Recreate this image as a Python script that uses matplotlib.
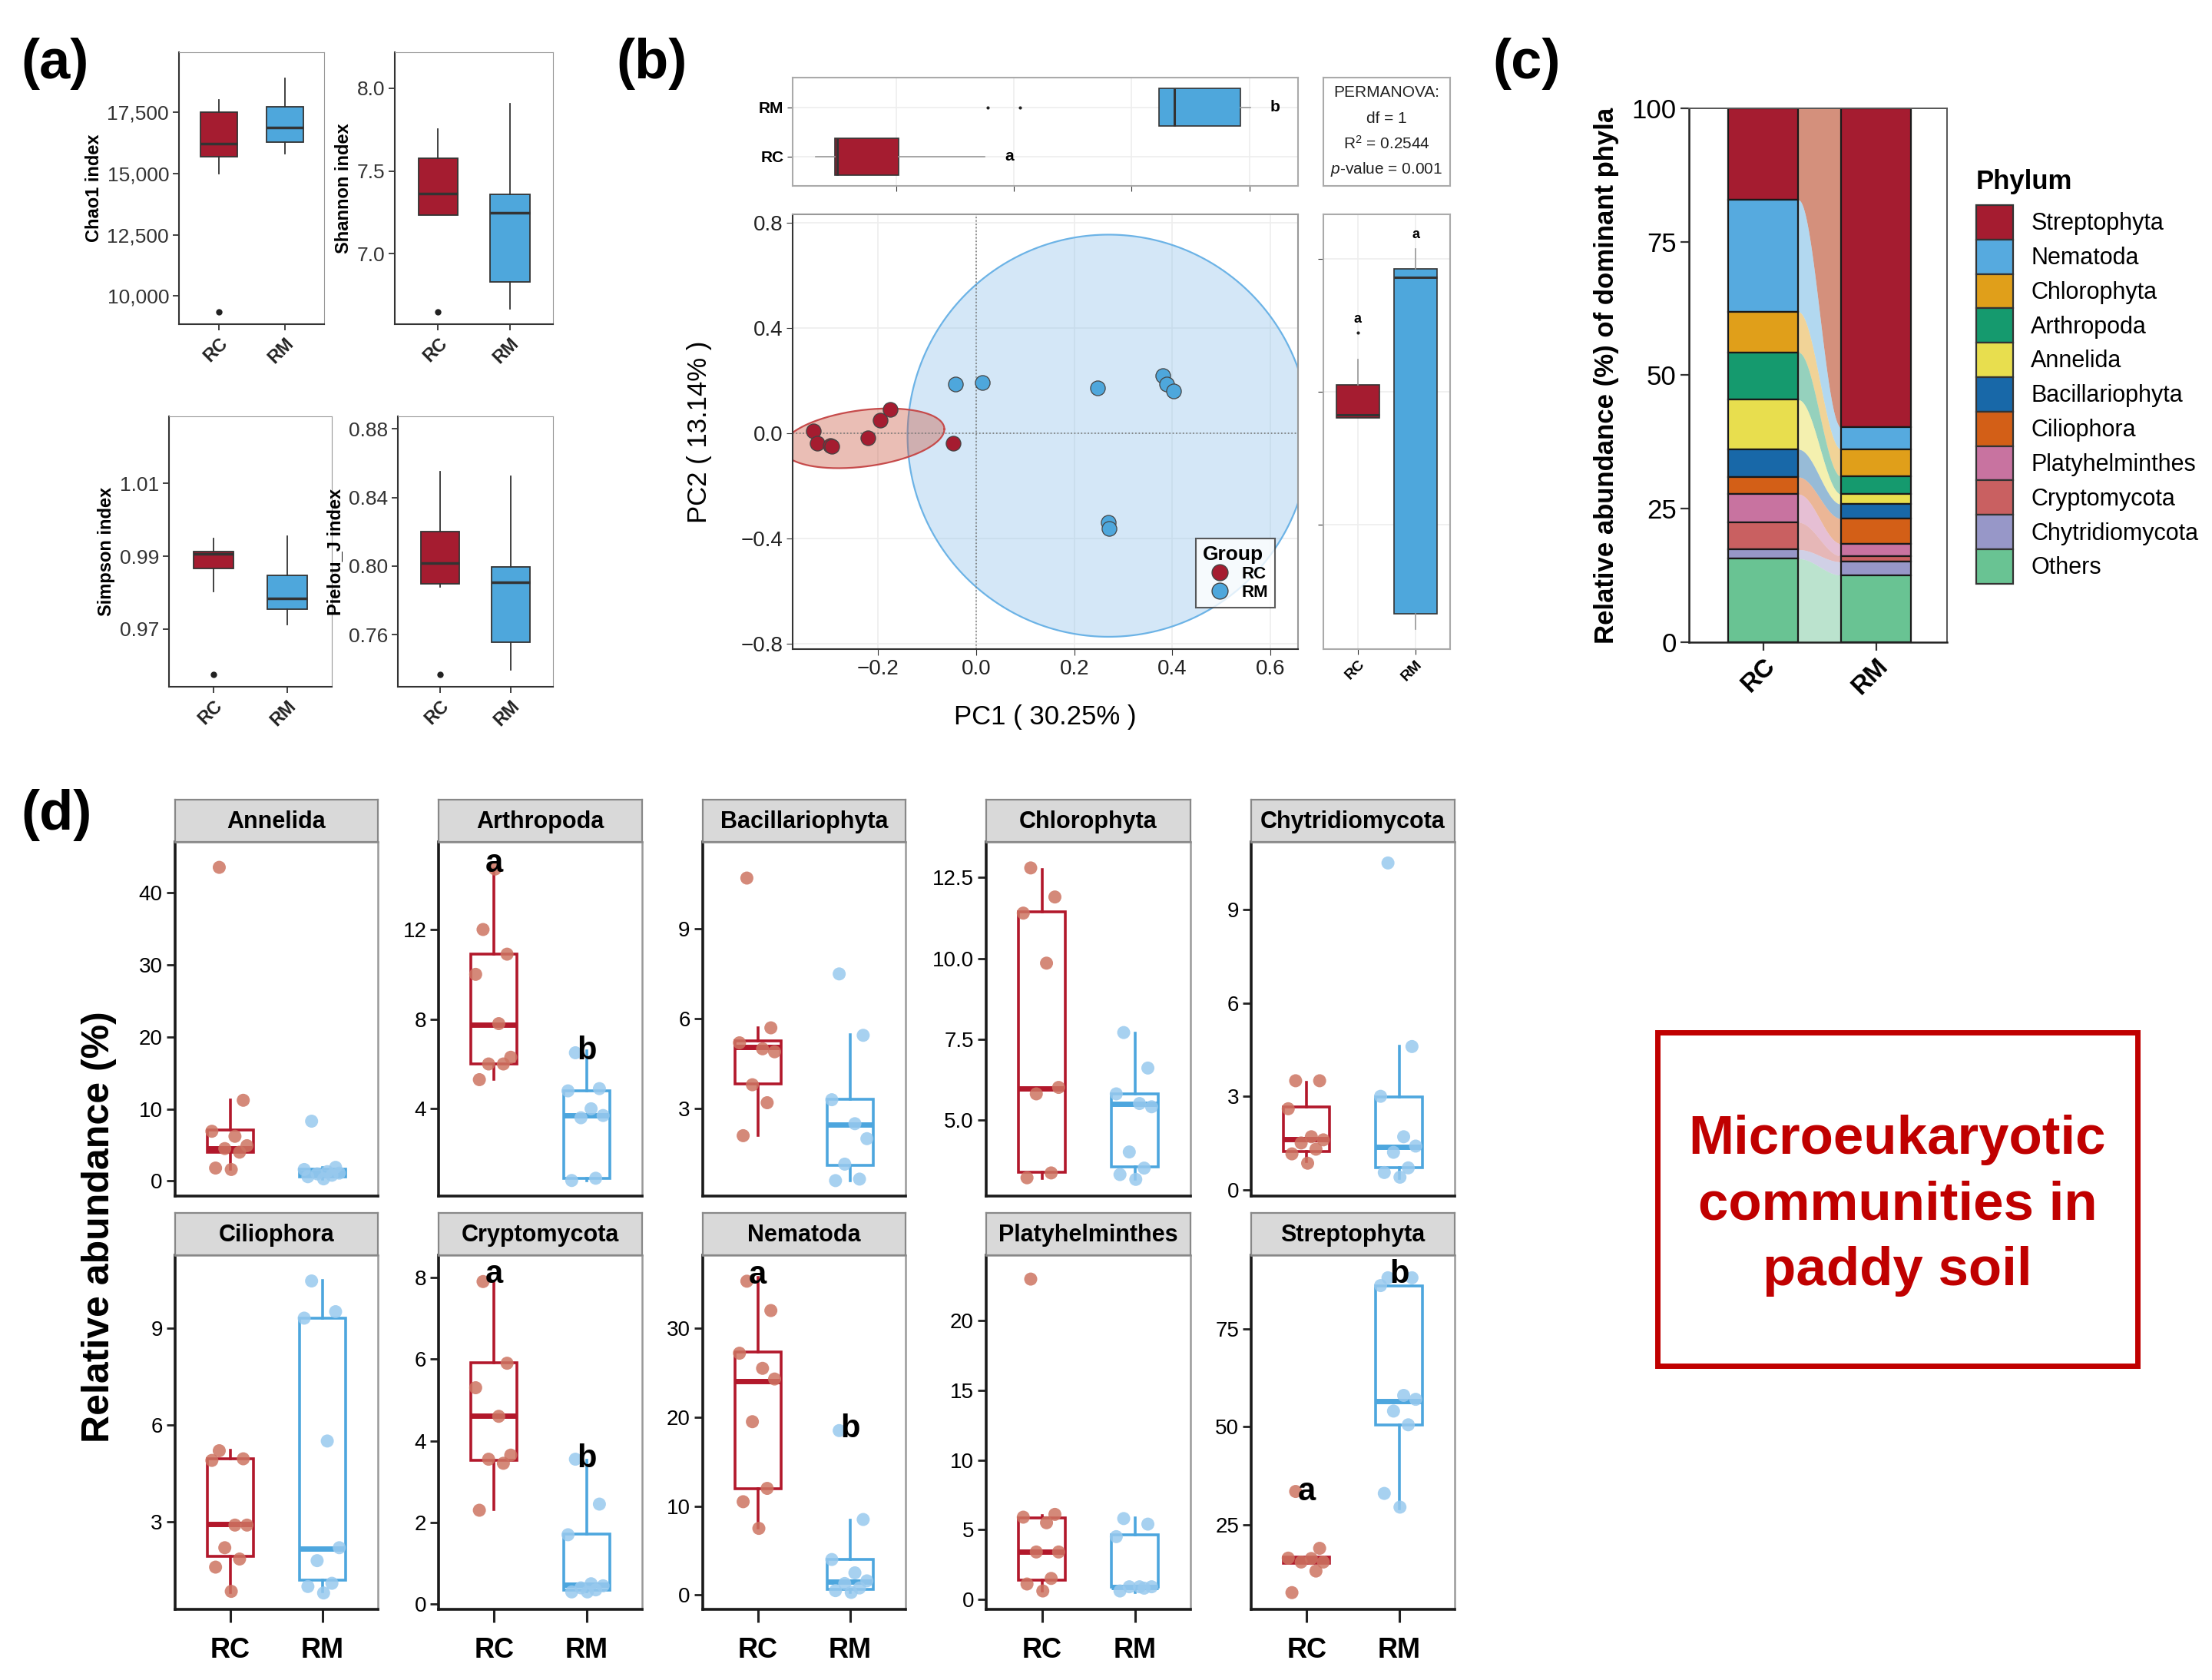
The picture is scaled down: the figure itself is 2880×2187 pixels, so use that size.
import matplotlib
matplotlib.use('Agg')
import matplotlib.pyplot as plt
from matplotlib.patches import Rectangle, Patch
from matplotlib.lines import Line2D
import numpy as np

plt.rcParams['font.family'] = ['Liberation Sans', 'DejaVu Sans']
plt.rcParams['mathtext.fontset'] = 'custom'
plt.rcParams['mathtext.rm'] = 'Liberation Sans'
plt.rcParams['mathtext.it'] = 'Liberation Sans:italic'

groups = ['RC', 'RM']

# ---------------- (a) alpha diversity, box stats: whislo, q1, med, q3, whishi, outliers
alpha_names = ['Chao1 index', 'Shannon index', 'Simpson index', 'Pielou_J index']
alpha_rc = [
    (14990, 15700, 16224, 17500, 18022, [9342]),
    (7.234, 7.234, 7.363, 7.577, 7.754, [6.649]),
    (0.9803, 0.9866, 0.9906, 0.9912, 0.9948, [0.9576]),
    (0.788, 0.7899, 0.8016, 0.820, 0.8551, [0.737]),
]
alpha_rm = [
    (15800, 16282, 16882, 17732, 18892, []),
    (6.669, 6.829, 7.246, 7.357, 7.906, []),
    (0.9713, 0.9755, 0.9785, 0.9847, 0.9955, []),
    (0.7397, 0.7556, 0.7907, 0.7995, 0.8523, []),
]
alpha_ticks = [[10000, 12500, 15000, 17500], [7.0, 7.5, 8.0], [0.97, 0.99, 1.01], [0.76, 0.80, 0.84, 0.88]]
alpha_ticklabels = [['10,000', '12,500', '15,000', '17,500'], ['7.0', '7.5', '8.0'],
                    ['0.97', '0.99', '1.01'], ['0.76', '0.80', '0.84', '0.88']]
alpha_ylim = [(8840, 19955), (6.574, 8.217), (0.9541, 1.0285), (0.7296, 0.8874)]

# ---------------- (b) PCoA
pc1_rc = [-0.332, -0.325, -0.297, -0.295, -0.221, -0.196, -0.176, -0.047]
pc2_rc = [0.009, -0.038, -0.047, -0.050, -0.017, 0.048, 0.090, -0.038]
pc1_rm = [-0.042, 0.012, 0.248, 0.380, 0.388, 0.402, 0.270, 0.271]
pc2_rm = [0.187, 0.192, 0.173, 0.218, 0.187, 0.161, -0.341, -0.362]
# ellipses: centre x, centre y, half width, half height, shear
ell_rc = (-0.23, -0.02, 0.165, 0.108, 0.035)
ell_rm = (0.27, -0.01, 0.41, 0.765, 0.0)
# marginal boxes (PC1 top, PC2 right)
pc1_box_rc = (-0.336, -0.304, -0.300, -0.196, -0.049, [])
pc1_box_rm = (0.247, 0.247, 0.272, 0.384, 0.402, [-0.044, 0.010])
pc1_letters = {'RC': ('a', -0.008), 'RM': ('b', 0.443)}
pc2_box_rc = (-0.099, -0.099, -0.087, 0.026, 0.122, [0.223])
pc2_box_rm = (-0.893, -0.835, 0.432, 0.463, 0.536, [])
pc2_letters = {'RC': ('a', 0.272), 'RM': ('a', 0.592)}
permanova = ['PERMANOVA:', 'df = 1', 'R$^2$ = 0.2544', '$\\it{p}$-value = 0.001']

# ---------------- (c) dominant phyla
phyla = ['Streptophyta', 'Nematoda', 'Chlorophyta', 'Arthropoda', 'Annelida', 'Bacillariophyta',
         'Ciliophora', 'Platyhelminthes', 'Cryptomycota', 'Chytridiomycota', 'Others']
abund_rc = [17.1, 21.0, 7.6, 8.9, 9.3, 5.2, 3.2, 5.3, 5.1, 1.7, 15.6]
abund_rm = [59.8, 4.1, 5.1, 3.3, 1.9, 2.7, 4.7, 2.3, 1.1, 2.5, 12.5]
phyla_colors = ['#A51C30', '#56AADF', '#E09F1A', '#159A6E', '#E8DE4E', '#1868A8',
                '#D35F17', '#C873A0', '#C96061', '#9797C8', '#69C393']

# ---------------- (d) phylum abundance per group
facets = ['Annelida', 'Arthropoda', 'Bacillariophyta', 'Chlorophyta', 'Chytridiomycota',
          'Ciliophora', 'Cryptomycota', 'Nematoda', 'Platyhelminthes', 'Streptophyta']
pts_rc = [
    [43.5, 11.2, 6.9, 6.2, 4.9, 4.5, 4.0, 1.8, 1.6],
    [12.0, 10.9, 10.0, 7.8, 6.3, 6.0, 6.0, 5.3, 14.7],
    [10.7, 5.7, 5.2, 5.0, 4.9, 3.8, 3.2, 2.1],
    [12.8, 11.9, 11.4, 9.85, 6.0, 5.8, 3.35, 3.2],
    [3.5, 3.5, 2.6, 1.7, 1.6, 1.5, 1.3, 1.15, 0.85],
    [5.2, 4.95, 4.9, 2.9, 2.9, 2.2, 1.85, 1.6, 0.85],
    [7.9, 5.9, 5.3, 4.6, 3.65, 3.55, 3.45, 2.3],
    [35.3, 32.0, 27.2, 25.5, 24.3, 19.5, 12.0, 10.5, 7.5],
    [23.0, 6.1, 5.9, 5.5, 3.4, 3.4, 1.5, 1.1, 0.6],
    [33.5, 19.0, 16.5, 16.4, 15.5, 15.5, 13.2, 7.7],
]
pts_rm = [
    [8.3, 1.9, 1.6, 1.3, 1.1, 1.0, 0.8, 0.6, 0.3],
    [6.5, 4.9, 4.8, 4.0, 3.7, 3.6, 0.9, 0.8],
    [7.5, 5.45, 3.3, 2.5, 2.0, 1.15, 0.65, 0.6],
    [7.7, 6.6, 5.8, 5.5, 5.4, 4.0, 3.5, 3.3, 3.15],
    [10.5, 4.6, 3.0, 1.7, 1.4, 1.2, 0.7, 0.55, 0.4],
    [10.45, 9.5, 9.3, 5.5, 2.2, 1.8, 1.1, 1.0, 0.8],
    [3.55, 2.45, 1.7, 0.5, 0.45, 0.4, 0.35, 0.3, 0.3],
    [18.5, 8.5, 4.0, 2.5, 1.6, 1.3, 0.8, 0.5, 0.3],
    [5.8, 5.4, 4.5, 0.9, 0.9, 0.9, 0.8, 0.6],
    [88.0, 88.0, 86.0, 58.0, 57.0, 54.0, 50.5, 33.0, 29.5],
]
# whislo, q1, med, q3, whishi
box_rc = [(1.6, 3.95, 4.5, 7.1, 11.2), (5.3, 6.0, 7.75, 10.9, 14.7), (2.1, 3.83, 5.07, 5.27, 5.71),
          (3.19, 3.37, 5.97, 11.43, 12.75), (0.9, 1.23, 1.62, 2.65, 3.46), (0.82, 1.93, 2.92, 4.95, 5.22),
          (2.32, 3.52, 4.61, 5.91, 7.89), (7.54, 11.96, 24.06, 27.3, 35.7), (0.6, 1.37, 3.4, 5.82, 6.0),
          (15.2, 15.2, 16.0, 16.77, 16.77)]
box_rm = [(0.3, 0.6, 1.1, 1.6, 1.9), (0.8, 0.9, 3.7, 4.8, 6.6), (0.6, 1.11, 2.47, 3.32, 5.46),
          (3.15, 3.54, 5.49, 5.79, 7.69), (0.37, 0.71, 1.37, 2.97, 4.6), (0.85, 1.2, 2.17, 9.3, 10.46),
          (0.3, 0.34, 0.47, 1.72, 3.52), (0.28, 0.62, 1.49, 3.98, 8.4), (0.5, 0.88, 0.88, 4.61, 5.82),
          (29.1, 50.5, 56.5, 86.0, 86.0)]
facet_ticks = [[0, 10, 20, 30, 40], [4, 8, 12], [3, 6, 9], [5.0, 7.5, 10.0, 12.5], [0, 3, 6, 9],
               [3, 6, 9], [0, 2, 4, 6, 8], [0, 10, 20, 30], [0, 5, 10, 15, 20], [25, 50, 75]]
facet_ylim = [(-2.1, 47.0), (0.1, 15.9), (0.08, 11.9), (2.63, 13.6), (-0.21, 11.17),
              (0.29, 11.24), (-0.13, 8.54), (-1.62, 38.2), (-0.73, 24.7), (3.4, 93.7)]
facet_letters = {1: [('a', 14.95), ('b', 6.6)], 6: [('a', 8.07), ('b', 3.56)],
                 7: [('a', 36.0), ('b', 18.7)], 9: [('a', 33.4), ('b', 88.9)]}

# ---------------- styling / layout helpers
RED = '#A51C30'
BLUE = '#4EA7DC'
D_RED = '#B2182B'
D_BLUE = '#4DA6DE'
PT_RED = '#CD7462'
PT_BLUE = '#98C9EE'
JIT = [-0.12, 0.14, -0.2, 0.05, 0.18, -0.06, 0.1, -0.16, 0.01]
W, H = 1568, 1191  # layout measured on the shrunk reference


def rect(x0, y0, x1, y1):
    return [x0 / W, 1 - y1 / H, (x1 - x0) / W, (y1 - y0) / H]


def bstats(t):
    st = dict(whislo=t[0], q1=t[1], med=t[2], q3=t[3], whishi=t[4])
    st['fliers'] = t[5] if len(t) > 5 else []
    return st


def draw_box(ax, t, pos, width, edge, face, lw, med_lw, med_color, whisk_color=None,
             orientation='vertical', flier_size=6):
    st = bstats(t)
    ax.bxp([st], positions=[pos], widths=width, orientation=orientation, patch_artist=True,
           showcaps=False, showfliers=len(st['fliers']) > 0,
           boxprops=dict(facecolor=face, edgecolor=edge, linewidth=lw),
           whiskerprops=dict(color=whisk_color or edge, linewidth=lw),
           medianprops=dict(color=med_color, linewidth=med_lw, solid_capstyle='butt'),
           flierprops=dict(marker='o', markersize=flier_size, markerfacecolor='#222222',
                           markeredgecolor='none'))


fig = plt.figure(figsize=(28.8, 21.87), dpi=100)

# ================= (a)
a_rects = [(127, 37, 230, 230), (280, 37, 392, 230), (120, 295, 235, 487), (282, 295, 392, 487)]
for i, r in enumerate(a_rects):
    ax = fig.add_axes(rect(*r))
    draw_box(ax, alpha_rc[i], 1, 0.55, '#333333', RED, 1.3, 2.5, '#333333', flier_size=6)
    draw_box(ax, alpha_rm[i], 2, 0.55, '#333333', BLUE, 1.3, 2.5, '#333333', flier_size=6)
    ax.set_xlim(0.4, 2.6)
    ax.set_ylim(*alpha_ylim[i])
    ax.set_yticks(alpha_ticks[i])
    ax.set_yticklabels(alpha_ticklabels[i], fontsize=19, color='#333333')
    ax.set_xticks([1, 2])
    ax.set_xticklabels(groups, rotation=45, ha='right', rotation_mode='anchor',
                       fontsize=17, fontweight='bold', color='#222222')
    ax.set_ylabel(alpha_names[i], fontsize=17, fontweight='bold', labelpad=4)
    ax.tick_params(length=6, width=1.3, color='#333333')
    for side in ['top', 'right']:
        ax.spines[side].set_color('#999999')
    for side in ['left', 'bottom']:
        ax.spines[side].set_color('#333333')
        ax.spines[side].set_linewidth(1.5)

# ================= (b) scatter
ax = fig.add_axes(rect(562, 152, 920, 460))
ax.set_xlim(-0.374, 0.656)
ax.set_ylim(-0.821, 0.832)
ax.grid(True, color='#EEEEEE', lw=1.2)
ax.set_axisbelow(True)
t = np.linspace(0, 2 * np.pi, 300)
for (cx, cy, a, b, sh), fc, ec, al in [(ell_rm, '#8EC1EA', '#6CB3E6', 0.38),
                                        (ell_rc, '#C8553D', '#C64B4B', 0.38)]:
    ex = cx + a * np.cos(t)
    ey = cy + b * np.sin(t) + sh * np.cos(t)
    ax.fill(ex, ey, facecolor=fc, alpha=al, edgecolor='none', zorder=1)
    ax.plot(ex, ey, color=ec, lw=1.6, zorder=1)
ax.axhline(0, color='#777777', ls=':', lw=1.2, zorder=2)
ax.axvline(0, color='#777777', ls=':', lw=1.2, zorder=2)
ax.scatter(pc1_rc, pc2_rc, s=190, c=RED, edgecolors='#444444', linewidths=0.9, zorder=3)
ax.scatter(pc1_rm, pc2_rm, s=190, c=BLUE, edgecolors='#444444', linewidths=0.9, zorder=3)
ax.set_xticks([-0.2, 0.0, 0.2, 0.4, 0.6])
ax.set_yticks([-0.8, -0.4, 0.0, 0.4, 0.8])
ax.tick_params(labelsize=20, length=6, color='#333333', labelcolor='#222222')
ax.set_xlabel('PC1 ( 30.25% )', fontsize=25, labelpad=24)
ax.set_ylabel('PC2 ( 13.14% )', fontsize=25, labelpad=27)
for s in ax.spines.values():
    s.set_color('#999999')
    s.set_linewidth(1.5)
ax.spines['left'].set_color('#333333')
ax.spines['bottom'].set_color('#333333')
handles = [Line2D([], [], marker='o', ls='none', markersize=15, markerfacecolor=c,
                  markeredgecolor='#444444') for c in (RED, BLUE)]
leg = ax.legend(handles, groups, title='Group', loc='lower right', bbox_to_anchor=(0.972, 0.075),
                fontsize=16, title_fontproperties=dict(weight='bold', size=19), frameon=True,
                fancybox=False, edgecolor='#333333', handletextpad=0.3, labelspacing=0.15,
                borderpad=0.4)
leg.get_frame().set_linewidth(1.5)
leg._legend_box.align = 'left'
for tx in leg.get_texts():
    tx.set_fontweight('bold')

# top marginal (PC1)
ax = fig.add_axes(rect(562, 55, 920, 132))
ax.set_xlim(-0.375, 0.482)
ax.set_ylim(0.4, 2.6)
ax.grid(True, color='#EEEEEE', lw=1.2)
ax.set_axisbelow(True)
draw_box(ax, pc1_box_rc, 1, 0.75, '#333333', RED, 1.2, 2.2, '#333333', whisk_color='#999999',
         orientation='horizontal', flier_size=3)
draw_box(ax, pc1_box_rm, 2, 0.75, '#333333', BLUE, 1.2, 2.2, '#333333', whisk_color='#999999',
         orientation='horizontal', flier_size=3)
for k, g in enumerate(groups):
    letter, xv = pc1_letters[g]
    ax.text(xv, k + 1, letter, fontsize=15, fontweight='bold', ha='center', va='center')
ax.set_yticks([1, 2])
ax.set_yticklabels(groups, fontsize=15, fontweight='bold')
ax.set_xticks([-0.2, 0.0, 0.2, 0.4])
ax.set_xticklabels([])
ax.tick_params(length=5, color='#333333')
for s in ax.spines.values():
    s.set_color('#AAAAAA')
    s.set_linewidth(1.5)

# PERMANOVA box
ax = fig.add_axes(rect(938, 55, 1028, 132))
ax.set_xticks([])
ax.set_yticks([])
for s in ax.spines.values():
    s.set_color('#AAAAAA')
    s.set_linewidth(1.5)
for k, line in enumerate(permanova):
    ax.text(0.5, 0.86 - k * 0.235, line, fontsize=15, ha='center', va='center', color='#222222',
            transform=ax.transAxes)

# right marginal (PC2)
ax = fig.add_axes(rect(938, 152, 1028, 460))
ax.set_xlim(0.4, 2.6)
ax.set_ylim(-0.966, 0.667)
ax.grid(True, color='#EEEEEE', lw=1.2)
ax.set_axisbelow(True)
draw_box(ax, pc2_box_rc, 1, 0.75, '#333333', RED, 1.2, 2.2, '#333333', whisk_color='#999999',
         flier_size=3)
draw_box(ax, pc2_box_rm, 2, 0.75, '#333333', BLUE, 1.2, 2.2, '#333333', whisk_color='#999999',
         flier_size=3)
for k, g in enumerate(groups):
    letter, yv = pc2_letters[g]
    ax.text(k + 1, yv, letter, fontsize=13, fontweight='bold', ha='center', va='center')
ax.set_yticks([-0.5, 0.0, 0.5])
ax.set_yticklabels([])
ax.set_xticks([1, 2])
ax.set_xticklabels(groups, rotation=45, ha='right', rotation_mode='anchor', fontsize=14,
                   fontweight='bold')
ax.tick_params(length=5, color='#333333')
for s in ax.spines.values():
    s.set_color('#AAAAAA')
    s.set_linewidth(1.5)

# ================= (c) stacked bars with flows
ax = fig.add_axes(rect(1197, 77, 1380, 455))
bar_w = 0.62
bottoms_rc = np.concatenate([[0], np.cumsum(abund_rc[::-1])[:-1]])[::-1]
bottoms_rm = np.concatenate([[0], np.cumsum(abund_rm[::-1])[:-1]])[::-1]
xs = np.linspace(bar_w / 2, 1 - bar_w / 2, 80)
u = (xs - xs[0]) / (xs[-1] - xs[0])
smooth = (1 - np.cos(np.pi * u)) / 2
for i, name in enumerate(phyla):
    b0, b1 = bottoms_rc[i], bottoms_rm[i]
    t0, t1 = b0 + abund_rc[i], b1 + abund_rm[i]
    lo = b0 + (b1 - b0) * smooth
    hi = t0 + (t1 - t0) * smooth
    if name == 'Streptophyta':
        ax.fill_between(xs, lo, hi, color='#D4907C', lw=0)
    else:
        ax.fill_between(xs, lo, hi, color=phyla_colors[i], alpha=0.45, lw=0)
    ax.bar([0, 1], [abund_rc[i], abund_rm[i]], bottom=[b0, b1], width=bar_w,
           color=phyla_colors[i], edgecolor='#1A1A1A', linewidth=1.6)
ax.set_xlim(-0.66, 1.625)
ax.set_ylim(0, 100)
ax.set_yticks([0, 25, 50, 75, 100])
ax.set_xticks([0, 1])
ax.set_xticklabels(groups, rotation=45, ha='right', rotation_mode='anchor', fontsize=24,
                   fontweight='bold')
ax.tick_params(axis='y', labelsize=25, length=8, width=1.6, color='#333333')
ax.tick_params(axis='x', length=8, width=1.6, color='#333333')
ax.set_ylabel('Relative abundance (%) of dominant phyla', fontsize=25, fontweight='bold',
              labelpad=12)
for s in ax.spines.values():
    s.set_color('#555555')
    s.set_linewidth(1.4)
ax.spines['left'].set_color('#222222')
ax.spines['bottom'].set_color('#222222')
ax.spines['left'].set_linewidth(1.8)
ax.spines['bottom'].set_linewidth(1.8)
handles = [Patch(facecolor=c, edgecolor='#333333', linewidth=1.6) for c in phyla_colors]
leg = fig.legend(handles, phyla, title='Phylum', loc='upper left', bbox_to_anchor=(0.889, 0.905),
                 fontsize=22, title_fontproperties=dict(weight='bold', size=25), frameon=False,
                 handlelength=1.6, handleheight=1.88, labelspacing=0.0, handletextpad=0.75,
                 borderaxespad=0)
leg._legend_box.align = 'left'
leg._legend_box.sep = 10

# ================= (d) facets
cols = [(124, 268), (311, 455), (498, 642), (699, 844), (887, 1031)]
rows = [(567, 597, 848), (860, 890, 1141)]
for k, name in enumerate(facets):
    r, c = divmod(k, 5)
    x0, x1 = cols[c]
    ys, ya, yb = rows[r]
    ax = fig.add_axes(rect(x0, ya, x1, yb))
    sax = fig.add_axes(rect(x0, ys, x1, ya))
    sax.set_facecolor('#D9D9D9')
    sax.set_xticks([])
    sax.set_yticks([])
    for s in sax.spines.values():
        s.set_color('#888888')
        s.set_linewidth(1.6)
    sax.text(0.5, 0.47, name, fontsize=22, fontweight='bold', ha='center', va='center',
             transform=sax.transAxes)

    draw_box(ax, box_rc[k], 1, 0.5, D_RED, 'none', 2.6, 5, D_RED)
    draw_box(ax, box_rm[k], 2, 0.5, D_BLUE, 'none', 2.6, 5, D_BLUE)
    for g, pts, col in [(1, pts_rc[k], PT_RED), (2, pts_rm[k], PT_BLUE)]:
        xj = [g + JIT[j % len(JIT)] for j in range(len(pts))]
        ax.scatter(xj, pts, s=150, c=col, alpha=0.85, edgecolors='none', zorder=4)
    for g, (letter, yv) in enumerate(facet_letters.get(k, [])):
        ax.text(g + 1, yv, letter, fontsize=30, fontweight='bold', ha='center', va='center',
                zorder=5)
    ax.set_xlim(0.4, 2.6)
    ax.set_ylim(*facet_ylim[k])
    ax.set_yticks(facet_ticks[k])
    ax.tick_params(axis='y', labelsize=20, length=8, width=2, color='#222222')
    ax.set_xticks([1, 2])
    if r == 1:
        ax.set_xticklabels(groups, fontsize=26, fontweight='bold')
        ax.tick_params(axis='x', length=12, width=2.2, color='#222222', pad=14)
    else:
        ax.set_xticklabels([])
        ax.tick_params(axis='x', length=0)
    for side in ['top', 'right']:
        ax.spines[side].set_color('#999999')
        ax.spines[side].set_linewidth(1.8)
    for side in ['left', 'bottom']:
        ax.spines[side].set_color('#1A1A1A')
        ax.spines[side].set_linewidth(2.6)

fig.text(70 / W, 1 - 870 / H, 'Relative abundance (%)', rotation=90, fontsize=36,
         fontweight='bold', ha='center', va='center')

# text box
bx = rect(1175, 732, 1515, 968)
fig.patches.append(Rectangle((bx[0], bx[1]), bx[2], bx[3], transform=fig.transFigure,
                             fill=False, edgecolor='#C00000', linewidth=5))
fig.text(bx[0] + bx[2] / 2, bx[1] + bx[3] / 2 - 0.004, 'Microeukaryotic\ncommunities in\npaddy soil',
         fontsize=51, fontweight='bold', color='#C00000', ha='center', va='center',
         linespacing=1.38)

# panel labels
for lab, x, y in [('(a)', 15, 45), ('(b)', 437, 45), ('(c)', 1058, 45), ('(d)', 15, 578)]:
    fig.text(x / W, 1 - y / H, lab, fontsize=52, fontweight='bold', ha='left', va='center')

fig.savefig('out.png', dpi=100, facecolor='white')
